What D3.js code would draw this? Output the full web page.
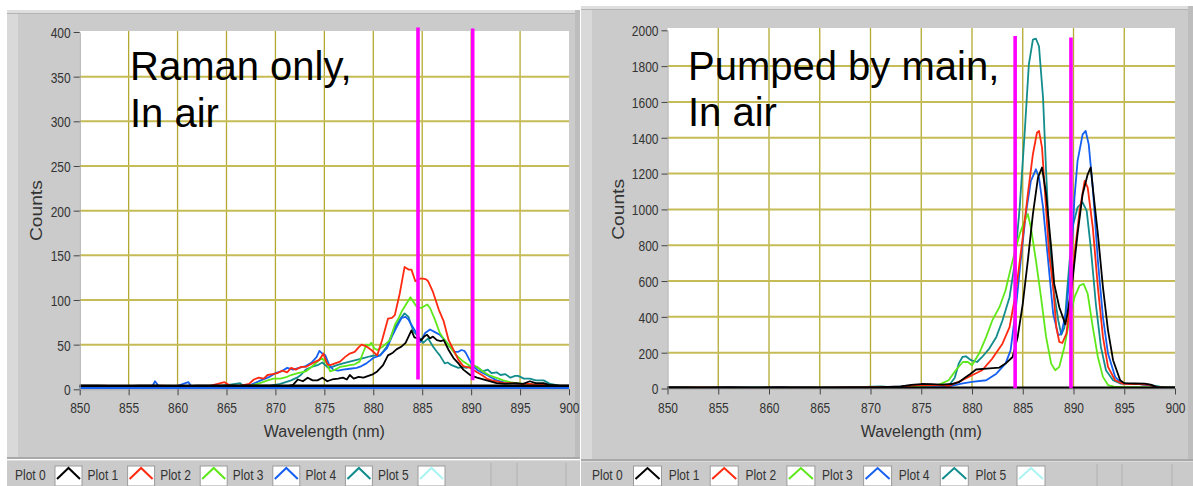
<!DOCTYPE html>
<html>
<head>
<meta charset="utf-8">
<script src="https://cdn.jsdelivr.net/npm/d3@7"></script>
<style>
  body { margin: 0; background: #fff; }
  svg { display: block; font-family: "Liberation Sans", Arial, sans-serif; }
</style>
</head>
<body>
<svg id="viz" width="1193" height="486"></svg>
<script>
// ---- data ----
var xTicks = [850, 855, 860, 865, 870, 875, 880, 885, 890, 895, 900];
var ramanYTicks = [0, 50, 100, 150, 200, 250, 300, 350, 400];
var pumpYTicks = [0, 200, 400, 600, 800, 1000, 1200, 1400, 1600, 1800, 2000];
var plotNames = ['Plot 0', 'Plot 1', 'Plot 2', 'Plot 3', 'Plot 4', 'Plot 5'];
var plotColors = ['#000000', '#ff2a10', '#5ee81a', '#1560f0', '#128c8c', '#aaf4f4'];

var ramanTitle = ['Raman only,', 'In air'];
var pumpTitle = ['Pumped by main,', 'In air'];

// [wavelength nm, counts]
var ramanPlot0 = [[850,4],[852,4],[854,3],[856,4],[858,4],[860,3],[862,4],[864,4],[866,4],[868,4],[870,4],[871,3],[871.8,5],[872.3,11],[872.8,9],[873.3,13],[873.8,10],[874.3,10],[874.8,13],[875.3,9],[875.8,11],[876.4,12],[876.9,13],[877.3,11],[877.6,16],[878,12],[878.5,14],[879,13],[879.5,15],[880,17],[880.4,20],[881,27],[881.5,38],[882,41],[882.4,45],[882.9,48],[883.3,52],[883.6,59],[883.9,66],[884.2,58],[884.6,57],[884.9,55],[885.2,59],[885.5,61],[885.8,57],[886.1,59],[886.5,55],[886.9,54],[887.2,55],[887.7,44],[888.2,35],[888.7,29],[889.2,22],[889.9,16],[890.6,13],[891.6,10],[892.6,7],[893.5,6],[894.6,7],[895.3,6],[896,9],[896.6,7],[897.4,7],[898,5],[899,4],[900,4]];
var ramanPlot1 = [[850,3],[851,2],[852.5,4],[854,3],[855.5,2],[857,3],[858.5,4],[860,3],[861.5,2],[863,3],[864.8,8],[865.5,3],[866.5,4],[867.3,6],[867.8,11],[868.3,13],[868.8,12],[869.2,16],[869.7,17],[870.2,18],[870.7,21],[871.2,19],[871.6,24],[872.1,22],[872.6,25],[873.1,25],[873.6,28],[874.1,31],[874.5,33],[874.9,40],[875.3,28],[875.6,27],[876.1,29],[876.6,31],[877.1,36],[877.6,40],[878.1,42],[878.5,47],[878.8,50],[879.3,48],[879.8,44],[880.4,38],[880.9,55],[881.5,79],[881.9,80],[882.2,83],[882.7,107],[883,125],[883.2,137],[883.6,134],[883.9,134],[884.3,121],[884.8,124],[885.1,124],[885.4,123],[885.6,121],[886.1,109],[886.7,89],[887.2,76],[887.7,55],[888.2,44],[888.7,33],[889.2,26],[889.9,24],[890.6,19],[891.1,16],[891.6,12],[892.1,10],[892.6,9],[893.3,7],[894,7],[895,6],[896,6],[896.8,5],[897.7,5],[898.5,3],[899.3,2],[900,2]];
var ramanPlot2 = [[850,3],[851.5,2],[853,3],[854.5,2],[856,3],[857.5,2],[859,4],[860.5,3],[862,2],[863.5,3],[865,3],[866.5,2],[867.5,4],[868.4,7],[869.2,10],[869.8,12],[870.5,12],[871.2,14],[871.6,16],[872.3,18],[873.1,20],[873.7,25],[874.2,30],[874.7,35],[875.2,30],[875.6,20],[876.1,22],[876.6,25],[877.1,26],[877.6,27],[878.1,28],[878.6,31],[879,42],[879.3,50],[879.6,49],[879.8,52],[880.1,46],[880.4,44],[881,48],[881.7,55],[882.2,72],[882.6,80],[882.9,87],[883.4,96],[883.8,103],[884.1,98],[884.4,93],[884.9,91],[885.2,93],[885.5,95],[885.8,91],[886.3,78],[886.8,63],[887.3,55],[887.8,48],[888.5,38],[889.2,31],[889.9,26],[890.3,27],[890.6,25],[891.2,20],[891.8,16],[892.3,14],[893.3,10],[894,8],[894.6,7],[895.5,6],[896.7,5],[897.5,4],[898.5,3],[900,2]];
var ramanPlot3 = [[850,2],[852,3],[854,2],[856,3],[857.4,3],[857.7,9],[858.1,3],[859.5,2],[861.1,8],[861.5,2],[863,3],[864.5,2],[866,3],[867.5,5],[868.5,10],[869.4,14],[870,18],[870.6,20],[871.2,24],[871.8,22],[872.4,24],[873.1,26],[873.7,30],[874.2,36],[874.5,43],[874.8,40],[875.1,38],[875.5,27],[875.9,22],[876.4,21],[876.9,22],[877.6,23],[878.3,24],[878.8,26],[879.3,29],[880,35],[880.7,38],[881.4,46],[881.9,59],[882.4,70],[882.9,80],[883.3,81],[883.6,78],[883.8,74],[884.3,65],[884.8,53],[885.3,63],[885.8,67],[886.3,64],[886.8,61],[887.3,55],[887.8,48],[888.3,42],[888.7,42],[889,44],[889.3,43],[889.5,40],[890.1,27],[890.7,21],[891.6,16],[892.1,13],[892.6,10],[893.3,8],[894,7],[895,6],[896,6],[897,4],[898,3],[900,2]];
var ramanPlot4 = [[850,2],[852,3],[854,2],[856,3],[858,2],[860,3],[862,2],[864,3],[866.4,7],[866.8,3],[868,3],[869.5,4],[870.5,6],[871.6,10],[872.2,13],[872.6,16],[873.1,22],[873.7,25],[874.3,27],[874.8,30],[875.4,24],[875.8,25],[876.3,27],[876.9,29],[877.6,31],[878.3,33],[879,35],[879.7,37],[880.2,38],[880.7,38],[881.4,48],[882.1,67],[882.7,78],[883.2,85],[883.6,81],[884.1,65],[884.6,59],[885.1,52],[885.6,57],[886.1,48],[886.5,42],[886.8,38],[887.3,29],[887.6,30],[888,27],[888.7,24],[889.1,25],[889.5,24],[890,26],[890.6,25],[891.2,20],[891.7,22],[892.1,18],[892.6,19],[893,16],[893.5,17],[894,13],[894.5,15],[894.8,15],[895.4,12],[896,12],[896.6,10],[897.4,10],[898.1,6],[899,4],[900,3]];

var pumpPlot0 = [[850,6],[853,5],[856,6],[859,5],[862,6],[865,5],[868,6],[871,8],[873,12],[874,20],[875,25],[876,24],[877,22],[878,25],[878.7,35],[879.3,60],[879.8,80],[880.4,106],[881.4,111],[882.7,117],[883.3,139],[884,176],[884.5,288],[885,473],[885.5,714],[886,974],[886.5,1178],[886.9,1234],[887.3,1085],[887.8,788],[888.1,584],[888.6,454],[889.2,358],[889.4,417],[889.9,603],[890.4,863],[890.9,1085],[891.4,1196],[891.7,1234],[891.9,1122],[892.4,863],[892.9,566],[893.4,325],[893.9,158],[894.6,46],[895,30],[896,28],[897,27],[897.6,22],[898.2,8],[899,5],[900,5]];
var pumpPlot1 = [[850,5],[853,6],[856,5],[859,4],[862,5],[865,5],[868,6],[871,8],[873,10],[874.5,18],[876,20],[877.2,18],[877.7,15],[878.7,37],[880,74],[881,102],[882,167],[883,250],[883.7,343],[884.3,529],[885,844],[885.5,1085],[886,1308],[886.4,1428],[886.6,1438],[886.9,1345],[887.2,1085],[887.6,751],[888,566],[888.3,343],[888.6,260],[888.9,254],[889.3,306],[889.7,492],[890.1,751],[890.6,992],[891.1,1159],[891.4,1122],[891.9,900],[892.4,566],[892.9,288],[893.4,121],[894.1,46],[894.8,28],[895.5,25],[896.5,24],[897.5,20],[898.2,8],[899,5],[900,5]];
var pumpPlot2 = [[850,4],[853,5],[856,4],[859,5],[862,4],[865,5],[868,5],[871,7],[873,9],[875,15],[876,17],[876.7,20],[877.7,46],[878.4,102],[879.1,148],[879.6,148],[880,130],[880.7,195],[881.4,288],[882,380],[882.7,454],[883.3,547],[884,714],[884.7,863],[885.2,937],[885.5,974],[885.8,900],[886.3,714],[886.8,510],[887.3,288],[887.8,139],[888.2,102],[888.6,121],[889.1,232],[889.6,380],[890.1,510],[890.6,575],[891,584],[891.4,529],[891.9,343],[892.4,176],[892.9,65],[893.4,19],[894,10],[895,8],[896.5,7],[898,6],[900,5]];
var pumpPlot3 = [[850,5],[853,4],[856,6],[859,5],[861.5,7],[862,4],[865,5],[868,6],[871,7],[873,10],[875,14],[876.5,16],[877.7,12],[879.1,28],[880,37],[881.4,46],[882.4,83],[883.3,139],[883.8,213],[884.3,436],[884.8,714],[885.3,974],[885.8,1159],[886.3,1224],[886.6,1178],[887,1011],[887.5,714],[888,417],[888.5,297],[888.8,306],[889.3,436],[889.8,751],[890.1,1067],[890.4,1271],[890.9,1419],[891.2,1438],[891.5,1363],[891.9,1122],[892.4,714],[892.9,399],[893.4,195],[894.1,65],[894.7,30],[895.5,26],[896.5,24],[897.5,18],[898.2,8],[899,6],[900,5]];
var pumpPlot4 = [[850,6],[852,8],[854,5],[856,6],[858,5],[860,7],[862,5],[864,6],[866,5],[868,6],[871,12],[872,7],[874,12],[876,16],[877.2,20],[877.7,14],[878.3,60],[878.7,140],[879.06,176],[879.4,180],[879.9,158],[880.5,148],[881,176],[881.7,223],[882.4,288],[883,380],[883.7,510],[884.2,696],[884.7,1011],[885.2,1438],[885.6,1809],[886,1948],[886.3,1953],[886.6,1911],[887,1623],[887.3,1215],[887.6,844],[888,566],[888.5,380],[888.8,300],[889.1,340],[889.4,566],[889.9,900],[890.4,1011],[890.9,1039],[891.3,992],[891.7,788],[892.2,473],[892.7,232],[893.2,102],[893.9,46],[894.6,28],[895.5,26],[896.5,24],[897.5,20],[898.5,10],[899.3,8],[900,8]];

var ramanSeries = [ramanPlot0, ramanPlot1, ramanPlot2, ramanPlot3, ramanPlot4];
var pumpSeries = [pumpPlot0, pumpPlot1, pumpPlot2, pumpPlot3, pumpPlot4];

// cursors: [wavelength, low count, high count]
var ramanCursors = [[884.57, 11, 405], [890.16, 10, 404]];
var pumpCursors = [[884.25, 0, 1968], [889.75, 0, 1960]];

// flat floor traces: [counts, colour index]
var ramanFloors = [[1.5, 3], [4, 0]];
var pumpFloors = [[4, 0]];

// ---- layout ----
var svg = d3.select('#viz');

var panels = [
  {
    box: {x: 7, y: 10, w: 573, h: 449},
    legendTop: 460, legendRight: 580,
    plot: {left: 79.7, right: 569, top: 32, bottom: 389.3, white: 31},
    ymax: 400, yTicks: ramanYTicks, series: ramanSeries, cursors: ramanCursors, floors: ramanFloors,
    title: ramanTitle, titleX: 130, titleY: [80, 127],
    countsX: 42,
    legend: {labelX: 15, swatchX: 55, step: 72.6, swatchW: 27},
    buttons: [491, 517, 566]
  },
  {
    box: {x: 581, y: 6, w: 612, h: 455},
    legendTop: 461, legendRight: 1193,
    plot: {left: 667.5, right: 1175, top: 30.3, bottom: 388.5, white: 28},
    ymax: 2000, yTicks: pumpYTicks, series: pumpSeries, cursors: pumpCursors, floors: pumpFloors,
    title: pumpTitle, titleX: 688, titleY: [80, 126],
    countsX: 624,
    legend: {labelX: 592, swatchX: 633.5, step: 76.7, swatchW: 28},
    buttons: [1097, 1122, 1172]
  }
];

panels.forEach(drawPanel);

function drawPanel(p) {
  var g = svg.append('g');
  var b = p.box;

  // window frame
  g.append('rect').attr('x', b.x).attr('y', b.y).attr('width', b.w).attr('height', b.h).attr('fill', '#cbcbcb');
  g.append('rect').attr('x', b.x).attr('y', b.y).attr('width', 11).attr('height', b.h).attr('fill', '#d9d9d9');
  g.append('rect').attr('x', b.x).attr('y', b.y).attr('width', b.w).attr('height', 3).attr('fill', '#dedede');
  g.append('line').attr('x1', b.x).attr('x2', b.x + b.w).attr('y1', b.y + 3.5).attr('y2', b.y + 3.5).attr('stroke', '#b4b4b4');
  g.append('rect').attr('x', b.x + b.w - 5).attr('y', b.y).attr('width', 5).attr('height', b.h).attr('fill', '#bdbdbd');
  g.append('line').attr('x1', b.x).attr('x2', b.x + b.w).attr('y1', b.y + b.h - 1).attr('y2', b.y + b.h - 1).attr('stroke', '#a9a9a9').attr('stroke-width', 2);

  var x = d3.scaleLinear().domain([850, 900]).range([p.plot.left, p.plot.right]);
  var y = d3.scaleLinear().domain([0, p.ymax]).range([p.plot.bottom, p.plot.top]);

  // plot area
  g.append('rect')
    .attr('x', p.plot.left).attr('y', p.plot.white)
    .attr('width', p.plot.right - p.plot.left).attr('height', p.plot.bottom - p.plot.white)
    .attr('fill', '#fff');

  // grid
  g.append('g').selectAll('line').data(xTicks.slice(1, -1)).join('line')
    .attr('x1', d => x(d)).attr('x2', d => x(d))
    .attr('y1', p.plot.white).attr('y2', p.plot.bottom)
    .attr('stroke', '#b3a930').attr('stroke-width', 1.3);
  g.append('g').selectAll('line').data(p.yTicks.slice(1, -1)).join('line')
    .attr('x1', p.plot.left).attr('x2', p.plot.right)
    .attr('y1', d => y(d)).attr('y2', d => y(d))
    .attr('stroke', '#c6bc55').attr('stroke-width', 2);

  // spectra, Plot 4 first so Plot 0 ends on top
  var line = d3.line().x(d => x(d[0])).y(d => y(d[1]));
  var traces = g.append('g').attr('fill', 'none').attr('stroke-width', 1.8).attr('stroke-linejoin', 'round');
  p.series.slice().reverse().forEach(function(s, i) {
    var idx = p.series.length - 1 - i;
    traces.append('path').datum(s).attr('d', line).attr('stroke', plotColors[idx]);
  });
  p.floors.forEach(function(f) {
    traces.append('path').datum([[850, f[0]], [900, f[0]]]).attr('d', line)
      .attr('stroke', plotColors[f[1]]).attr('stroke-width', f[1] === 0 ? 2.6 : 2);
  });

  // title text
  var t = g.append('text').attr('font-size', 40).attr('fill', '#000');
  p.title.forEach(function(s, i) {
    t.append('tspan').attr('x', p.titleX).attr('y', p.titleY[i]).text(s);
  });

  // cursors
  g.append('g').selectAll('line').data(p.cursors).join('line')
    .attr('x1', d => x(d[0])).attr('x2', d => x(d[0]))
    .attr('y1', d => y(d[1])).attr('y2', d => y(d[2]))
    .attr('stroke', '#ff00ff').attr('stroke-width', 3.6);

  // axes
  g.append('g')
    .attr('transform', 'translate(0,' + p.plot.bottom + ')')
    .call(d3.axisBottom(x).tickValues(xTicks).tickFormat(d3.format('d')).tickSize(6).tickSizeOuter(0))
    .attr('font-size', 12).attr('font-family', null)
    .call(a => a.select('.domain').attr('stroke', '#a8a8a8'))
    .call(a => a.selectAll('.tick line').attr('stroke', '#444'))
    .call(a => a.selectAll('.tick text').attr('y', 0).attr('dy', null)
      .attr('transform', 'translate(0,24) scale(1,1.25)').attr('fill', '#333'));

  g.append('g')
    .attr('transform', 'translate(' + p.plot.left + ',0)')
    .call(d3.axisLeft(y).tickValues(p.yTicks).tickFormat(d3.format('d')).tickSize(6).tickPadding(3).tickSizeOuter(0))
    .attr('font-size', 12).attr('font-family', null)
    .call(a => a.select('.domain').attr('stroke', '#a0a0a0'))
    .call(a => a.selectAll('.tick line').attr('stroke', '#444'))
    .call(a => a.selectAll('.tick text').attr('dy', '0.36em')
      .attr('transform', 'scale(1,1.25)').attr('fill', '#333'));

  // axis titles
  g.append('text')
    .attr('x', (p.plot.left + p.plot.right) / 2).attr('y', 436.5)
    .attr('text-anchor', 'middle').attr('font-size', 16).attr('fill', '#333')
    .text('Wavelength (nm)');
  g.append('text')
    .attr('transform', 'translate(' + p.countsX + ',' + ((p.plot.top + p.plot.bottom) / 2) + ') rotate(-90) scale(1.2,1)')
    .attr('text-anchor', 'middle').attr('font-size', 16).attr('fill', '#333')
    .text('Counts');

  // legend strip
  var lg = g.append('g');
  var lt = p.legendTop;
  lg.append('rect').attr('x', b.x).attr('y', lt).attr('width', p.legendRight - b.x).attr('height', 486 - lt).attr('fill', '#cacaca');
  lg.append('line').attr('x1', b.x).attr('x2', p.legendRight).attr('y1', lt + 0.5).attr('y2', lt + 0.5).attr('stroke', '#dcdcdc');
  lg.selectAll('line.sep').data(p.buttons).join('line').attr('class', 'sep')
    .attr('x1', d => d).attr('x2', d => d).attr('y1', lt + 3).attr('y2', 486)
    .attr('stroke', '#b8b8b8').attr('stroke-width', 1.5);

  var items = lg.selectAll('g.item').data(plotNames).join('g').attr('class', 'item')
    .attr('transform', (d, i) => 'translate(' + (i * p.legend.step) + ',0)');
  items.append('text')
    .attr('x', p.legend.labelX).attr('y', 0)
    .attr('transform', 'translate(0,' + 479.5 + ') scale(1,1.25)')
    .attr('font-size', 12).attr('fill', '#333')
    .text(d => d);
  var sw = p.legend.swatchW;
  items.append('rect')
    .attr('x', p.legend.swatchX).attr('y', 466).attr('width', sw).attr('height', 20)
    .attr('fill', '#fff').attr('stroke', '#9c9c9c');
  items.append('path')
    .attr('d', d => 'M' + (p.legend.swatchX + 2) + ',479 L' + (p.legend.swatchX + sw / 2) + ',468 L' + (p.legend.swatchX + sw - 2) + ',479')
    .attr('fill', 'none').attr('stroke-width', 2)
    .attr('stroke', (d, i) => plotColors[i]);
}
</script>
</body>
</html>
